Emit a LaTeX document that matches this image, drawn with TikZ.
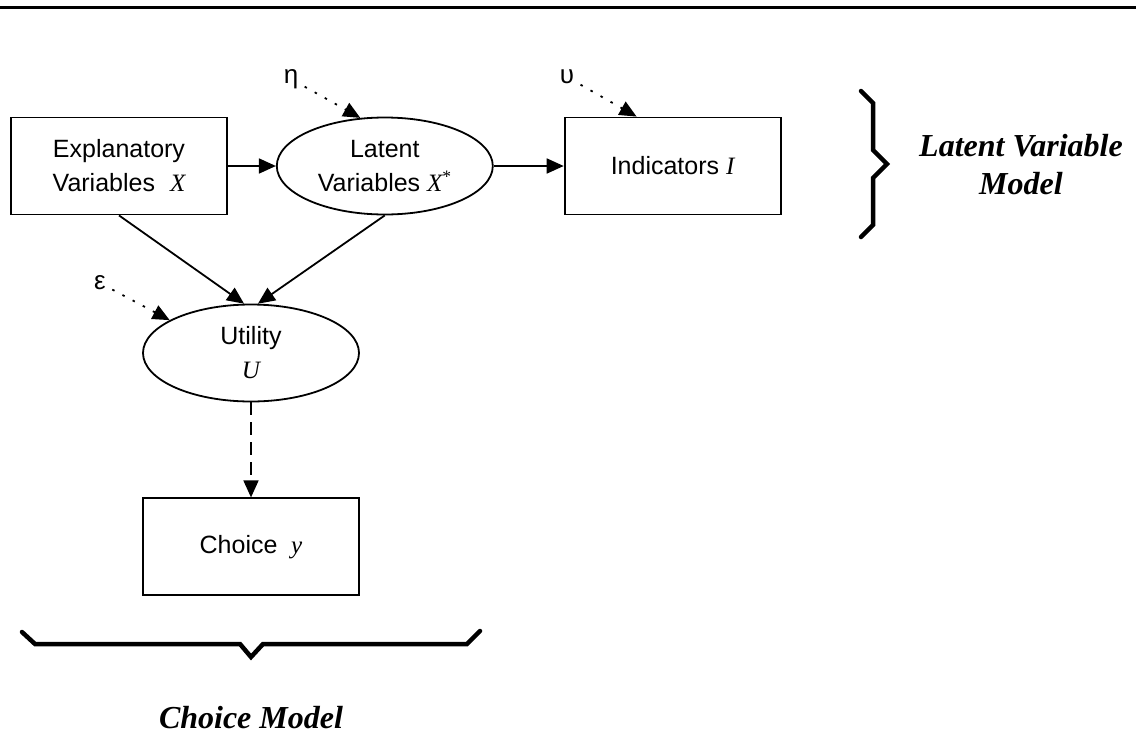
\documentclass[tikz,border=0pt]{standalone}
\usepackage{fontspec}
\setmainfont{Liberation Sans}
\newfontfamily\tnr{Liberation Serif}
\usetikzlibrary{arrows.meta, positioning, shapes.geometric}

\newcommand{\mvar}[1]{{\tnr\itshape #1}}

\begin{document}
\begin{tikzpicture}[
  x=1pt, y={(0pt,-1pt)},
  block/.style = {
    draw,
    line width=1.8pt,
    minimum width=216pt,
    minimum height=97pt,
    inner sep=0pt,
    align=center,
    font=\fontsize{25}{34}\selectfont
  },
  blob/.style = {block, ellipse},
  errterm/.style = {inner sep=1pt, font=\fontsize{26}{30}\selectfont},
  modellabel/.style = {
    align=center,
    font=\fontsize{32}{38}\selectfont\tnr\bfseries\itshape
  },
  brace/.style = {line width=4.5pt, line cap=round, line join=miter},
  arrow/.style = {line width=1.8pt, -{Triangle[length=17pt,width=15pt]}},
  dotarrow/.style = {arrow, dash pattern=on 2.5pt off 9pt, shorten <=6pt},
  dasharrow/.style = {arrow, dash pattern=on 13pt off 7pt},
  node distance=48pt and 48pt
]
\useasboundingbox (0,0) rectangle (1136,734);

% top rule
\draw[line width=3pt] (0,7) -- (1136,7);

% ======================================================
% LATENT VARIABLE MODEL
% ======================================================

\node[block] (expl) at (119,166) {Explanatory\\Variables\hspace{.6em}\mvar{X}};
\node[blob, right=48pt of expl] (latent) {Latent\\Variables \mvar{X}\textsuperscript{\tnr *}};
\node[block, right=70pt of latent] (indic) {Indicators \mvar{I}};

\node[errterm] (eta) at (291,79) {η};
\node[errterm] (ups) at (567,77) {υ};

% ---- Arrows ----
\draw[arrow] (expl) -- (latent);
\draw[arrow] (latent) -- (indic);
\draw[dotarrow] (eta) -- (latent.117);
\draw[dotarrow] (ups) -- ([xshift=-36pt]indic.north);

% ---- Brace ----
\draw[brace] (861,91) -- (873,103) -- (873,150) -- (887,164)
  -- (873,178) -- (873,225) -- (861,237);
\node[modellabel] (lvmodel) at (1021,165) {Latent Variable\\Model};

% ======================================================
% CHOICE MODEL
% ======================================================

\node[blob] (util) at (251,353) {Utility\\\mvar{U}};
\node[block, below=95pt of util] (choice) {Choice\hspace{.55em}\mvar{y}};

\node[errterm] (eps) at (100,283) {ε};

% ---- Arrows ----
\draw[arrow] (expl.south) -- (util.98);
\draw[arrow] (latent.south) -- (util.82);
\draw[dotarrow] (eps) -- (util.158);
\draw[dasharrow] (util) -- (choice);

% ---- Brace ----
\draw[brace] (22,632) -- (35,644) -- (240,644) -- (251,657)
  -- (263,644) -- (467,644) -- (480,631);
\node[modellabel] (cmodel) at (251,718) {Choice Model};

\end{tikzpicture}
\end{document}
